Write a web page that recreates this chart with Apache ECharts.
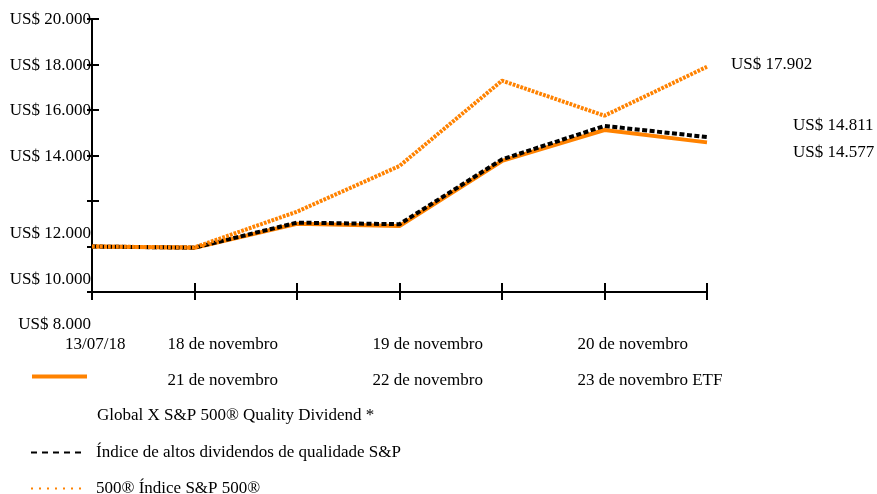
<!DOCTYPE html>
<html>
<head>
<meta charset="utf-8">
<script src="https://cdn.jsdelivr.net/npm/echarts@6/dist/echarts.min.js"></script>
<style>
html,body{margin:0;padding:0;background:#fff;}
#c{width:877px;height:494px;}
</style>
</head>
<body>
<div id="c"></div>
<script>
// ---- data ----
const xTickLabels = ['13/07/18', '18 de novembro', '19 de novembro', '20 de novembro', '21 de novembro', '22 de novembro', '23 de novembro ETF'];
const seriesNames = ['Global X S&P 500® Quality Dividend *', 'Índice de altos dividendos de qualidade S&P', '500® Índice S&P 500®'];
const fundValues  = [10000, 9940, 11000, 10900, 13760, 15120, 14577];
const indexValues = [10000, 9950, 11050, 10980, 13830, 15300, 14811];
const sp500Values = [10000, 9960, 11530, 13540, 17290, 15750, 17902];
const yMin = 8000, yMax = 20000, yStep = 2000;

// ---- helpers ----
const FONT = "'Liberation Serif', 'Times New Roman', serif";
const ORANGE = '#FF8200';
function money(v) {
  return 'US$ ' + String(Math.round(v)).replace(/\B(?=(\d{3})+(?!\d))/g, '.');
}
const slotIds = fundValues.map((_, i) => String(i));
const slotLabels = ['', '', '', '', '', '', ''];
slotLabels[0] = xTickLabels[0];
slotLabels[1] = xTickLabels[1] + '\n' + xTickLabels[4];
slotLabels[3] = xTickLabels[2] + '\n' + xTickLabels[5];
slotLabels[5] = xTickLabels[3] + '\n' + xTickLabels[6];

const chart = echarts.init(document.getElementById('c'), null, {renderer: 'canvas'});
const textBase = {fontFamily: FONT, fontSize: 17, color: '#000'};

const option = {
  animation: false,
  backgroundColor: '#fff',
  grid: [
    {left: 92, right: 170, top: 19, bottom: 202},
    {left: 65, right: 197, top: 19, bottom: 202}
  ],
  xAxis: [
    {
      gridIndex: 0, type: 'category', data: slotIds, boundaryGap: false,
      axisLine: {lineStyle: {color: '#000', width: 2}},
      axisTick: {show: true, inside: false, length: 8, lineStyle: {color: '#000', width: 2}},
      axisLabel: {show: false}, splitLine: {show: false}
    },
    {
      gridIndex: 0, type: 'category', data: slotIds, boundaryGap: false, position: 'bottom',
      axisLine: {show: false},
      axisTick: {show: true, inside: true, length: 9, lineStyle: {color: '#000', width: 2}},
      axisLabel: {show: false}, splitLine: {show: false}
    },
    {
      gridIndex: 1, type: 'category', data: slotIds, boundaryGap: false,
      axisLine: {show: false}, axisTick: {show: false}, splitLine: {show: false},
      axisLabel: {
        show: true, interval: 0, align: 'left', margin: 35,
        fontFamily: FONT, fontSize: 17, color: '#000', lineHeight: 36,
        formatter: (v, i) => slotLabels[i]
      }
    }
  ],
  yAxis: [
    {
      gridIndex: 0, type: 'value', min: yMin, max: yMax, interval: yStep,
      axisLine: {show: true, lineStyle: {color: '#000', width: 2}},
      axisTick: {show: true, inside: false, length: 5, lineStyle: {color: '#000', width: 2}},
      splitLine: {show: false},
      axisLabel: {
        show: true, margin: 1,
        formatter: v => (v < 14000 ? '{low|' : '{n|') + money(v) + '}',
        rich: {
          n: Object.assign({padding: [2, 0, 0, 0]}, textBase),
          low: Object.assign({padding: [66, 0, 0, 0]}, textBase)
        }
      }
    },
    {
      gridIndex: 0, type: 'value', min: yMin, max: yMax, interval: yStep, position: 'left',
      axisLine: {show: false},
      axisTick: {show: true, inside: true, length: 7, lineStyle: {color: '#000', width: 2}},
      splitLine: {show: false}, axisLabel: {show: false}
    },
    {
      gridIndex: 1, type: 'value', min: yMin, max: yMax, show: false
    }
  ],
  legend: [
    {
      data: [seriesNames[0]], left: 30, top: 371, itemWidth: 55, itemHeight: 14, padding: 0,
      selectedMode: false, orient: 'vertical',
      lineStyle: {width: 4, type: 'solid', color: ORANGE},
      itemStyle: {opacity: 0},
      formatter: '{t|{name}}',
      textStyle: {rich: {t: Object.assign({padding: [78, 0, 0, 5]}, textBase)}}
    },
    {
      data: [seriesNames[1]], left: 30, top: 444, itemWidth: 50, itemHeight: 14, padding: 0,
      selectedMode: false, orient: 'vertical',
      lineStyle: {width: 2, type: [6, 5], color: '#000'},
      itemStyle: {opacity: 0},
      formatter: '{t|{name}}',
      textStyle: {rich: {t: Object.assign({padding: [0, 0, 0, 10]}, textBase)}}
    },
    {
      data: [seriesNames[2]], left: 30, top: 480, itemWidth: 50, itemHeight: 14, padding: 0,
      selectedMode: false, orient: 'vertical',
      lineStyle: {width: 2, type: [2, 6], color: ORANGE},
      itemStyle: {opacity: 0},
      formatter: '{t|{name}}',
      textStyle: {rich: {t: Object.assign({padding: [0, 0, 0, 10]}, textBase)}}
    }
  ],
  series: [
    {
      name: seriesNames[0], type: 'line', xAxisIndex: 0, yAxisIndex: 0,
      data: fundValues, symbol: 'none', smooth: false,
      lineStyle: {color: ORANGE, width: 4, type: 'solid'},
      itemStyle: {color: ORANGE},
      endLabel: {show: true, formatter: p => money(p.value), distance: 0, offset: [86, 10],
        fontFamily: FONT, fontSize: 17, color: '#000'}
    },
    {
      name: seriesNames[1], type: 'line', xAxisIndex: 0, yAxisIndex: 0,
      data: indexValues, symbol: 'none', smooth: false,
      lineStyle: {color: '#000', width: 4, type: [5, 2.5]},
      itemStyle: {color: '#000'},
      endLabel: {show: true, formatter: p => money(p.value), distance: 0, offset: [86, -12],
        fontFamily: FONT, fontSize: 17, color: '#000'}
    },
    {
      name: seriesNames[2], type: 'line', xAxisIndex: 0, yAxisIndex: 0,
      data: sp500Values, symbol: 'none', smooth: false,
      lineStyle: {color: ORANGE, width: 4, type: [2.8, 1.2]},
      itemStyle: {color: ORANGE},
      endLabel: {show: true, formatter: p => money(p.value), distance: 0, offset: [24, -2],
        fontFamily: FONT, fontSize: 17, color: '#000'}
    }
  ]
};
chart.setOption(option);
</script>
</body>
</html>
